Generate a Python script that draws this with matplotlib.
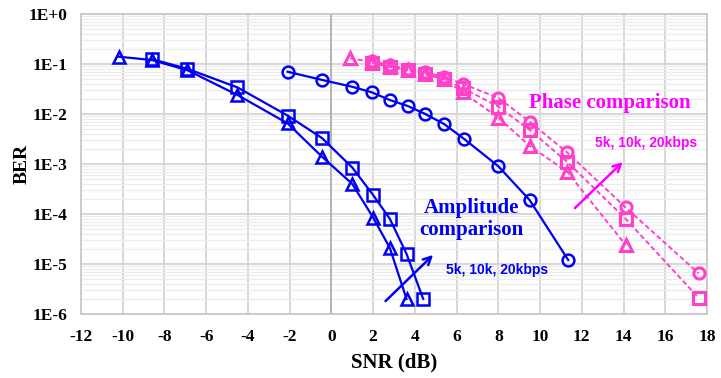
import matplotlib.pyplot as plt
import numpy as np

# Amplitude comparison (blue)
amp_tri_x = [-10.2, -8.6, -6.9, -4.5, -2.1, -0.45, 1.0, 2.0, 2.8, 3.6]
amp_tri_y = [0.14, 0.12, 0.075, 0.024, 0.0065, 0.0014, 4e-4, 8.5e-5, 2.1e-5, 2e-6]
amp_sq_x = [-8.6, -6.9, -4.5, -2.1, -0.45, 1.0, 2.0, 2.8, 3.6, 4.4]
amp_sq_y = [0.125, 0.08, 0.034, 0.0093, 0.0033, 8.5e-4, 2.4e-4, 8e-5, 1.6e-5, 2e-6]
amp_ci_x = [-2.1, -0.45, 1.0, 1.95, 2.8, 3.65, 4.5, 5.4, 6.35, 8.0, 9.5, 11.35]
amp_ci_y = [0.07, 0.048, 0.035, 0.027, 0.019, 0.0145, 0.01, 0.0063, 0.0032, 9e-4, 1.9e-4, 1.2e-5]

# Phase comparison (pink)
ph_tri_x = [0.9, 1.95, 2.8, 3.65, 4.5, 5.4, 6.3, 8.0, 9.5, 11.3, 14.1]
ph_tri_y = [0.13, 0.11, 0.09, 0.075, 0.062, 0.05, 0.027, 0.0085, 0.0023, 7e-4, 2.4e-5]
ph_sq_x = [1.95, 2.8, 3.65, 4.5, 5.4, 6.3, 8.0, 9.5, 11.3, 14.1, 17.6]
ph_sq_y = [0.105, 0.088, 0.075, 0.063, 0.05, 0.033, 0.014, 0.0048, 0.0011, 8e-5, 2.1e-6]
ph_ci_x = [1.95, 2.8, 3.65, 4.5, 5.4, 6.3, 8.0, 9.5, 11.3, 14.1, 17.6]
ph_ci_y = [0.115, 0.095, 0.08, 0.068, 0.055, 0.04, 0.021, 0.007, 0.0017, 1.35e-4, 6.5e-6]

x_ticks = list(range(-12, 19, 2))
y_ticks = [1e0, 1e-1, 1e-2, 1e-3, 1e-4, 1e-5, 1e-6]
y_labels = ['1E+0', '1E-1', '1E-2', '1E-3', '1E-4', '1E-5', '1E-6']

blue = '#0000F0'
pink = '#FF40C8'
magenta = '#FF00FF'
serif = 'Liberation Serif'

fig = plt.figure(figsize=(7.21, 3.78), dpi=100)
ax = fig.add_axes([0.1123, 0.1693, 0.8683, 0.7937])

for xs, ys, m in [(amp_tri_x, amp_tri_y, '^'), (amp_sq_x, amp_sq_y, 's'), (amp_ci_x, amp_ci_y, 'o')]:
    ax.plot(xs, ys, color=blue, lw=1.6, marker=m, ms=8.5, mfc='none', mec=blue, mew=1.8, zorder=4)

for xs, ys, m in [(ph_tri_x, ph_tri_y, '^'), (ph_sq_x, ph_sq_y, 's'), (ph_ci_x, ph_ci_y, 'o')]:
    ax.plot(xs, ys, color=pink, lw=1.4, ls=(0, (2.5, 1.5)), marker=m, ms=8, mfc='none', mec=pink, mew=2.2, zorder=3)

ax.set_yscale('log')
ax.set_xlim(-12, 18)
ax.set_ylim(1e-6, 1)
ax.set_xticks(x_ticks)
ax.set_xticklabels([str(t) for t in x_ticks], fontfamily=serif, fontweight='bold', fontsize=12.5)
ax.set_yticks(y_ticks)
ax.set_yticklabels(y_labels, fontfamily=serif, fontweight='bold', fontsize=12.5)
ax.yaxis.set_minor_locator(plt.matplotlib.ticker.LogLocator(base=10, subs=np.arange(2, 10)))
ax.yaxis.set_minor_formatter(plt.NullFormatter())
ax.tick_params(length=0, which='both')
ax.tick_params(axis='x', pad=11)
ax.tick_params(axis='y', pad=10)

ax.grid(True, which='major', color='#d4d4d4', lw=1.3)
ax.grid(True, which='minor', axis='y', color='#ececec', lw=0.9)
ax.axvline(0, color='#b0b0b0', lw=1.3, zorder=1)
ax.set_axisbelow(True)
for s in ax.spines.values():
    s.set_color('#c8c8c8')
    s.set_linewidth(1.3)

ax.set_xlabel('SNR (dB)', fontfamily=serif, fontweight='bold', fontsize=15, labelpad=5)
ax.set_ylabel('BER', fontfamily=serif, fontweight='bold', fontsize=14)
ax.yaxis.set_label_coords(-0.081, 0.5)

ax.text(13.35, 0.0166, 'Phase comparison', color=magenta, fontfamily=serif, fontweight='bold',
        fontsize=15, ha='center', va='center')
ax.text(6.7, 7.9e-5, 'Amplitude\ncomparison', color=blue, fontfamily=serif, fontweight='bold',
        fontsize=15, ha='center', va='center', linespacing=1.15)
ax.text(15.07, 2.6e-3, '5k, 10k, 20kbps', color=magenta, fontfamily='Liberation Sans',
        fontweight='bold', fontsize=10, ha='center', va='center')
ax.text(7.93, 7.6e-6, '5k, 10k, 20kbps', color=blue, fontfamily='Liberation Sans',
        fontweight='bold', fontsize=10, ha='center', va='center')

ax.annotate('', xy=(4.97, 1.66e-5), xytext=(2.5, 1.66e-6),
            arrowprops=dict(arrowstyle='->', color=blue, lw=1.8, mutation_scale=14))
ax.annotate('', xy=(14.06, 1.2e-3), xytext=(11.57, 1.2e-4),
            arrowprops=dict(arrowstyle='->', color=magenta, lw=1.8, mutation_scale=14))

fig.savefig('out.png', dpi=100)
